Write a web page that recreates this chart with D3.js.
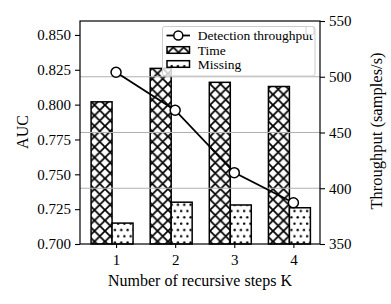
<!DOCTYPE html>
<html>
<head>
<meta charset="utf-8">
<script src="https://cdn.jsdelivr.net/npm/d3@7"></script>
<style>
  body { margin: 0; background: #fff; }
  svg text { font-family: "Liberation Serif", "Times New Roman", serif; fill: #000; }
</style>
</head>
<body>
<div class="canvas"></div>
<script>
// data
const steps = [1, 2, 3, 4];
const throughput = [504, 470, 414, 387];
const timeAuc = [0.802, 0.826, 0.816, 0.813];
const missingAuc = [0.715, 0.730, 0.728, 0.726];
const aucTicks = [0.700, 0.725, 0.750, 0.775, 0.800, 0.825, 0.850];
const tpTicks = [350, 400, 450, 500, 550];
const legendNames = ['Detection throughput', 'Time', 'Missing'];

const dims = {width: 391, height: 304};
const box = {left: 80, right: 320, top: 21, bottom: 244};

const svg = d3.select('.canvas')
    .append('svg')
    .attr('width', dims.width)
    .attr('height', dims.height);

// hatch patterns
const defs = svg.append('defs');
const p = 10.5;
defs.append('pattern')
    .attr('id', 'cross')
    .attr('patternUnits', 'userSpaceOnUse')
    .attr('width', p).attr('height', p)
  .append('path')
    .attr('d', [-p, 0, p].map(c => `M-1,${-1 + c}L${p + 1},${p + 1 + c}`).join('') +
               [0, p, 2 * p].map(c => `M-1,${c + 1}L${p + 1},${c - p - 1}`).join(''))
    .attr('stroke', '#000')
    .attr('stroke-width', 1.8)
    .attr('fill', 'none');

const d = 6.3;
const dots = defs.append('pattern')
    .attr('id', 'dots')
    .attr('patternUnits', 'userSpaceOnUse')
    .attr('width', d).attr('height', 2 * d);
dots.append('circle').attr('cx', d / 4).attr('cy', d / 2).attr('r', 1.2).attr('fill', '#000');
dots.append('circle').attr('cx', d * 3 / 4).attr('cy', d * 1.5).attr('r', 1.2).attr('fill', '#000');

// scales
const x = d3.scaleLinear().domain([0.39, 4.45]).range([box.left, box.right]);
const yAuc = d3.scaleLinear().domain([0.70, 0.86]).range([box.bottom, box.top]);
const yTp = d3.scaleLinear().domain([350, 550]).range([box.bottom, box.top]);

const barW = x(0.355) - x(0);

// bars
const drawBars = (values, offset, pat) => {
    const g = svg.append('g');
    const bx = (v, i) => x(steps[i] + offset) - barW / 2;
    g.selectAll('rect.bg').data(values).enter().append('rect')
        .attr('x', bx).attr('y', v => yAuc(v))
        .attr('width', barW).attr('height', v => yAuc(0.70) - yAuc(v))
        .attr('fill', '#fff');
    g.selectAll('rect.fg').data(values).enter().append('rect')
        .attr('x', bx).attr('y', v => yAuc(v))
        .attr('width', barW).attr('height', v => yAuc(0.70) - yAuc(v))
        .attr('fill', `url(#${pat})`)
        .attr('stroke', '#000')
        .attr('stroke-width', 1.5);
};
drawBars(timeAuc, -0.245, 'cross');
drawBars(missingAuc, 0.11, 'dots');

// grid of right axis
svg.append('g').selectAll('line').data(tpTicks.slice(1, -1)).enter().append('line')
    .attr('x1', box.left).attr('x2', box.right)
    .attr('y1', v => yTp(v)).attr('y2', v => yTp(v))
    .attr('stroke', '#b0b0b0').attr('stroke-width', 1);

// throughput line
const line = d3.line().x((v, i) => x(steps[i])).y(v => yTp(v));
svg.append('path')
    .datum(throughput)
    .attr('d', line)
    .attr('fill', 'none')
    .attr('stroke', '#000')
    .attr('stroke-width', 1.8);
svg.append('g').selectAll('circle').data(throughput).enter().append('circle')
    .attr('cx', (v, i) => x(steps[i])).attr('cy', v => yTp(v))
    .attr('r', 5)
    .attr('fill', '#fff').attr('stroke', '#000').attr('stroke-width', 1.5);

// axes
const axL = svg.append('g').attr('transform', `translate(${box.left},0)`)
    .call(d3.axisLeft(yAuc).tickValues(aucTicks).tickFormat(d3.format('.3f')).tickSize(5).tickPadding(4));
const axR = svg.append('g').attr('transform', `translate(${box.right},0)`)
    .call(d3.axisRight(yTp).tickValues(tpTicks).tickSize(5).tickPadding(4));
const axB = svg.append('g').attr('transform', `translate(0,${box.bottom})`)
    .call(d3.axisBottom(x).tickValues(steps).tickFormat(d3.format('d')).tickSize(4).tickPadding(6));
[axL, axR, axB].forEach(a => {
    a.select('.domain').remove();
    a.selectAll('line').attr('stroke', '#000').attr('stroke-width', 1.1);
    a.selectAll('text').attr('font-size', 15).attr('font-family', '"Liberation Serif", serif');
});

svg.append('rect')
    .attr('x', box.left).attr('y', box.top)
    .attr('width', box.right - box.left).attr('height', box.bottom - box.top)
    .attr('fill', 'none').attr('stroke', '#000').attr('stroke-width', 1.2);

// axis labels
svg.append('text')
    .attr('transform', 'translate(22.5,132) rotate(-90)')
    .attr('text-anchor', 'middle').attr('dy', '0.35em')
    .attr('font-size', 16)
    .text('AUC');
svg.append('text')
    .attr('transform', 'translate(376.5,131) rotate(-90)')
    .attr('text-anchor', 'middle').attr('dy', '0.35em')
    .attr('font-size', 16.5)
    .text('Throughput (samples/s)');
svg.append('text')
    .attr('x', 200).attr('y', 280)
    .attr('text-anchor', 'middle').attr('dy', '0.35em')
    .attr('font-size', 16)
    .text('Number of recursive steps K');

//legend
const legend = svg.append('g');
legend.append('rect')
    .attr('x', 162.5).attr('y', 26.5).attr('width', 152.5).attr('height', 49.5)
    .attr('rx', 2.5)
    .attr('fill', '#fff').attr('fill-opacity', 0.8)
    .attr('stroke', '#cccccc').attr('stroke-width', 1);
const rows = [35.5, 50, 64];
legend.append('line')
    .attr('x1', 166.5).attr('x2', 190).attr('y1', rows[0]).attr('y2', rows[0])
    .attr('stroke', '#000').attr('stroke-width', 1.8);
legend.append('circle')
    .attr('cx', 178.3).attr('cy', rows[0]).attr('r', 4.5)
    .attr('fill', '#fff').attr('stroke', '#000').attr('stroke-width', 1.5);
['cross', 'dots'].forEach((pat, i) => {
    legend.append('rect')
        .attr('x', 167).attr('y', rows[i + 1] - 3.3).attr('width', 22.5).attr('height', 6.6)
        .attr('fill', '#fff');
    legend.append('rect')
        .attr('x', 167).attr('y', rows[i + 1] - 3.3).attr('width', 22.5).attr('height', 6.6)
        .attr('fill', `url(#${pat})`)
        .attr('stroke', '#000').attr('stroke-width', 1.5);
});
legend.selectAll('text.name').data(legendNames).enter().append('text')
    .attr('x', 197.7).attr('y', (n, i) => rows[i]).attr('dy', '0.35em')
    .attr('font-size', 13.5)
    .text(n => n);
legend.append('rect')
    .attr('x', 306).attr('y', 26.5).attr('width', 8).attr('height', 8).attr('rx', 1.5)
    .attr('fill', '#fff').attr('stroke', '#d0d0d0').attr('stroke-width', 1);
</script>
</body>
</html>
